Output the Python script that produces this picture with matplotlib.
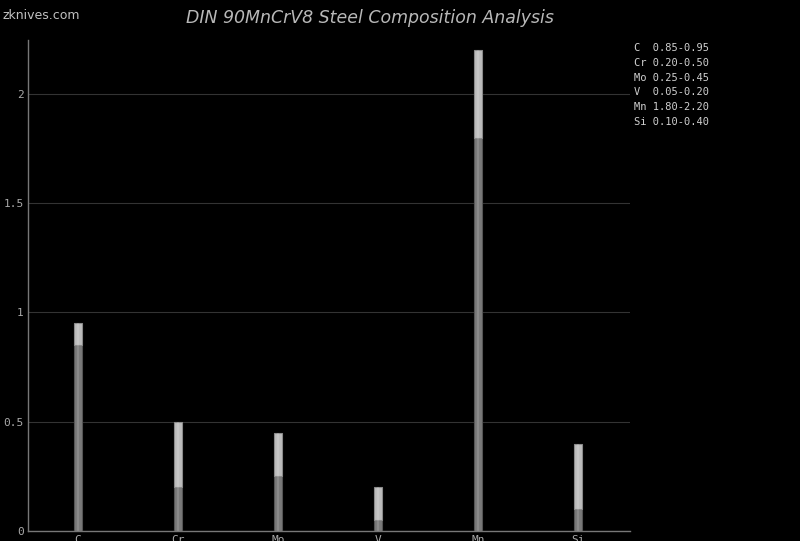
import matplotlib
matplotlib.use("Agg")
import matplotlib.pyplot as plt

elements = ["C", "Cr", "Mo", "V", "Mn", "Si"]
min_vals = [0.85, 0.20, 0.25, 0.05, 1.80, 0.10]
max_vals = [0.95, 0.50, 0.45, 0.20, 2.20, 0.40]
yticks = [0, 0.5, 1, 1.5, 2]
ytick_labels = ["0", "0.5", "1", "1.5", "2"]

fig = plt.figure(figsize=(8, 5.41), dpi=100, facecolor="black")
ax = fig.add_axes([0.035, 0.0185, 0.7525, 0.9075], facecolor="black")

x = range(len(elements))
w = 0.08
# lower part: minimum content, upper part: range up to maximum
ax.bar(x, min_vals, width=w, color="#7a7a7a", edgecolor="#555555", linewidth=0.8, zorder=3)
ax.bar(x, [mx - mn for mn, mx in zip(min_vals, max_vals)], bottom=min_vals, width=w,
       color="#bdbdbd", edgecolor="#8a8a8a", linewidth=0.8, zorder=3)
# lighter centre stripe for a rounded look
ax.bar(x, max_vals, width=w * 0.35, color="white", alpha=0.12, linewidth=0, zorder=4)

ax.set_xlim(-0.5, 5.52)
ax.set_ylim(0, 2.247)
ax.set_yticks(yticks)
ax.set_yticklabels(ytick_labels)
ax.set_xticks(list(x))
ax.set_xticklabels(elements)
ax.grid(axis="y", color="#333333", linewidth=0.8, zorder=0)

for s in ["top", "right"]:
    ax.spines[s].set_visible(False)
for s in ["left", "bottom"]:
    ax.spines[s].set_color("#777777")
    ax.spines[s].set_linewidth(1.0)

ax.tick_params(colors="#aaaaaa", labelsize=8, length=0, pad=3)
for lbl in ax.get_xticklabels() + ax.get_yticklabels():
    lbl.set_family("DejaVu Sans Mono")

fig.text(0.4625, 0.966, "DIN 90MnCrV8 Steel Composition Analysis", ha="center", va="center",
         color="#b8b8b8", fontsize=12.5, style="italic")
fig.text(0.003, 0.972, "zknives.com", ha="left", va="center", color="#c0c0c0",
         fontsize=9)

for i, el in enumerate(elements):
    txt = "%-2s %.2f-%.2f" % (el, min_vals[i], max_vals[i])
    fig.text(0.793, 0.911 - i * 0.0272, txt, ha="left", va="center", color="#d0d0d0",
             fontsize=7.5, family="DejaVu Sans Mono")

fig.savefig("out.png", dpi=100, facecolor="black")
